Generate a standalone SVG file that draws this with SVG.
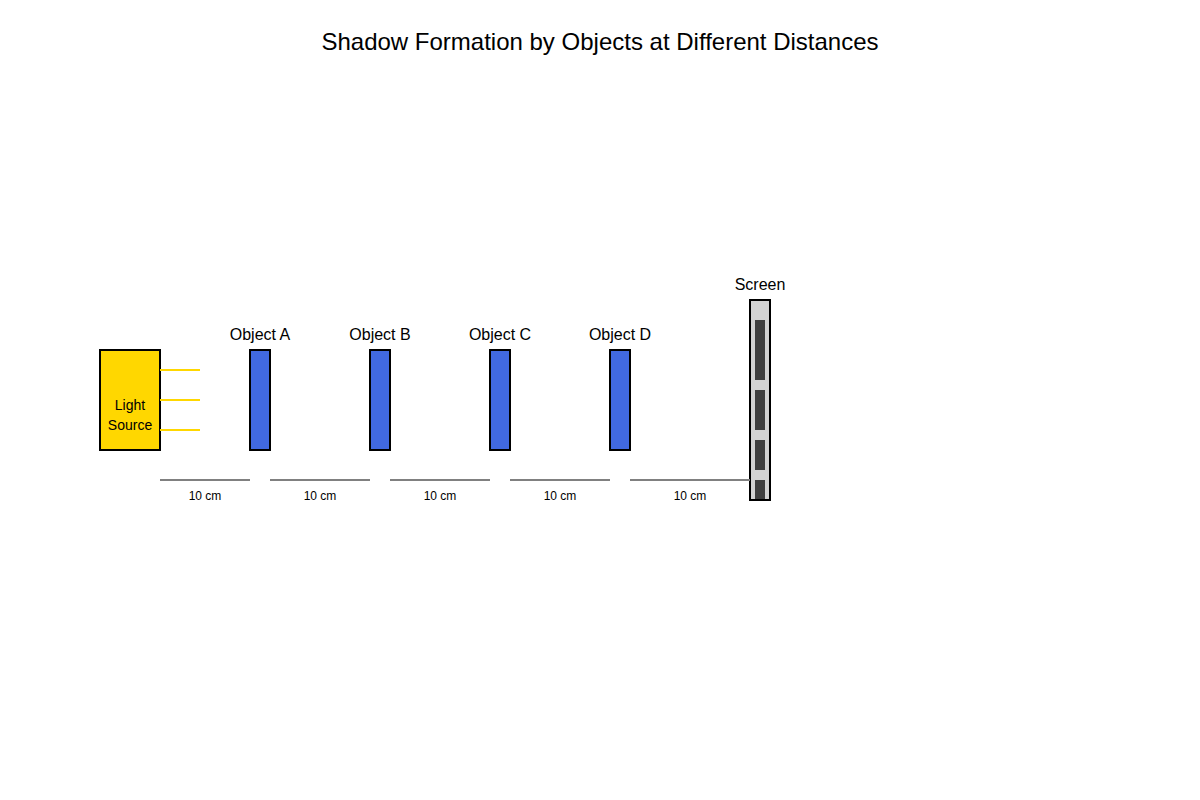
<svg xmlns="http://www.w3.org/2000/svg" width="1200" height="800" viewBox="0 0 1200 800">
<style>
text{font-family:"Liberation Sans",Arial,sans-serif;fill:#000}
.title{font-size:24px;text-anchor:middle}
.lbl{font-size:16px;text-anchor:middle}
.dist{font-size:12px;text-anchor:middle}
.src{font-size:14px;text-anchor:middle}
.obj{fill:#4169E1;stroke:#000;stroke-width:2}
.ray{stroke:#FFD700;stroke-width:2}
.dline{stroke:#808080;stroke-width:2}
.shadow{fill:#404040}
</style>
<rect width="1200" height="800" fill="#fff"/>
<text class="title" x="600" y="50">Shadow Formation by Objects at Different Distances</text>
<g id="light-source">
<rect x="100" y="350" width="60" height="100" fill="#FFD700" stroke="#000" stroke-width="2"/>
<text class="src" x="130" y="410">Light</text>
<text class="src" x="130" y="430">Source</text>
</g>
<g id="object-a"><rect class="obj" x="250" y="350" width="20" height="100"/><text class="lbl" x="260" y="340">Object A</text></g>
<g id="object-b"><rect class="obj" x="370" y="350" width="20" height="100"/><text class="lbl" x="380" y="340">Object B</text></g>
<g id="object-c"><rect class="obj" x="490" y="350" width="20" height="100"/><text class="lbl" x="500" y="340">Object C</text></g>
<g id="object-d"><rect class="obj" x="610" y="350" width="20" height="100"/><text class="lbl" x="620" y="340">Object D</text></g>
<g id="screen">
<rect x="750" y="300" width="20" height="200" fill="#D3D3D3" stroke="#000" stroke-width="2"/>
<rect class="shadow" x="755" y="320" width="10" height="60"/>
<rect class="shadow" x="755" y="390" width="10" height="40"/>
<rect class="shadow" x="755" y="440" width="10" height="30"/>
<rect class="shadow" x="755" y="480" width="10" height="19"/>
<text class="lbl" x="760" y="290">Screen</text>
</g>
<g id="connectors">
<line class="ray" x1="160" y1="370" x2="200" y2="370"/>
<line class="ray" x1="160" y1="400" x2="200" y2="400"/>
<line class="ray" x1="160" y1="430" x2="200" y2="430"/>
<line class="dline" x1="160" y1="480" x2="250" y2="480"/>
<line class="dline" x1="270" y1="480" x2="370" y2="480"/>
<line class="dline" x1="390" y1="480" x2="490" y2="480"/>
<line class="dline" x1="510" y1="480" x2="610" y2="480"/>
<line class="dline" x1="630" y1="480" x2="750" y2="480"/>
</g>
<g id="distance-labels">
<text class="dist" x="205" y="500">10 cm</text>
<text class="dist" x="320" y="500">10 cm</text>
<text class="dist" x="440" y="500">10 cm</text>
<text class="dist" x="560" y="500">10 cm</text>
<text class="dist" x="690" y="500">10 cm</text>
</g>
</svg>
